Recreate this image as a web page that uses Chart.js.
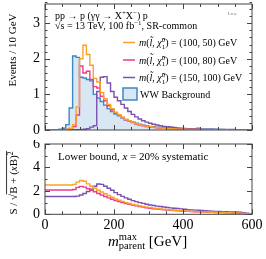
<!DOCTYPE html>
<html>
<head>
<meta charset="utf-8">
<script src="https://cdn.jsdelivr.net/npm/chart.js@4/dist/chart.umd.min.js"></script>
<style>
  body { margin: 0; background: #fff; }
  #wrap { position: relative; width: 266px; height: 259px; }
  canvas { position: absolute; left: 0; }
  #top { top: 0; }
  #bottom { top: 140px; }
</style>
</head>
<body>
<div id="wrap">
  <canvas id="top" width="266" height="140"></canvas>
  <canvas id="bottom" width="266" height="119"></canvas>
</div>
<script>
// 10 GeV bins from 0 to 600 GeV
const binWidth = 10;

// top panel: events / 10 GeV
const wwBackground = [
  0, 0, 0.01, 0.01, 0.02, 0.05, 0.15, 0.62, 2.08, 2.04,
  1.48, 1.46, 1.42, 1.38, 1.0, 0.9, 0.8, 0.7, 0.6, 0.52,
  0.45, 0.4, 0.34, 0.29, 0.25, 0.22, 0.19, 0.16, 0.14, 0.12,
  0.1, 0.09, 0.08, 0.07, 0.06, 0.05, 0.08, 0.05, 0.04, 0.04,
  0.03, 0.03, 0.03, 0.02, 0.05, 0.02, 0.02, 0.02, 0.02, 0.02,
  0.015, 0.015, 0.01, 0.01, 0.01, 0.01, 0.01, 0.01, 0.005, 0.005
];
const sig100_50 = [
  0, 0, 0, 0, 0.005, 0.01, 0.03, 0.05, 0.15, 0.65,
  2.0, 2.38, 2.12, 1.82, 1.45, 1.35, 1.05, 0.88, 0.72, 0.6,
  0.5, 0.43, 0.36, 0.3, 0.26, 0.22, 0.18, 0.15, 0.13, 0.11,
  0.09, 0.08, 0.07, 0.06, 0.05, 0.04, 0.035, 0.03, 0.025, 0.02,
  0.02, 0.018, 0.016, 0.014, 0.012, 0.01, 0.01, 0.008, 0.008, 0.006,
  0.006, 0.005, 0.005, 0.004, 0.004, 0.003, 0.003, 0.002, 0.002, 0.002
];
const sig100_80 = [
  0, 0, 0, 0, 0.005, 0.01, 0.02, 0.04, 0.1, 0.42,
  1.8, 1.6, 1.65, 1.42, 1.22, 1.18, 0.95, 0.82, 0.68, 0.57,
  0.48, 0.41, 0.35, 0.29, 0.25, 0.21, 0.17, 0.14, 0.12, 0.1,
  0.085, 0.075, 0.065, 0.055, 0.045, 0.04, 0.035, 0.03, 0.025, 0.02,
  0.018, 0.016, 0.014, 0.012, 0.01, 0.009, 0.008, 0.007, 0.006, 0.005,
  0.005, 0.004, 0.004, 0.003, 0.003, 0.003, 0.002, 0.002, 0.002, 0.002
];
const sig150_100 = [
  0, 0, 0, 0, 0, 0.002, 0.003, 0.004, 0.005, 0.006,
  0.01, 0.02, 0.04, 0.08, 0.12, 1.08, 1.48, 1.5, 1.32, 1.08,
  0.92, 0.82, 0.72, 0.62, 0.52, 0.44, 0.37, 0.31, 0.26, 0.22,
  0.19, 0.16, 0.14, 0.12, 0.1, 0.09, 0.08, 0.07, 0.06, 0.05,
  0.045, 0.04, 0.035, 0.03, 0.027, 0.025, 0.022, 0.02, 0.02, 0.018,
  0.016, 0.015, 0.014, 0.013, 0.012, 0.011, 0.01, 0.01, 0.009, 0.008
];

// bottom panel: S / sqrt(B + (xB)^2), lower bound on m_parent^max
const signif100_50 = [
  2.5, 2.5, 2.5, 2.5, 2.5, 2.5, 2.5, 2.5, 2.55, 2.75,
  2.88, 2.82, 2.6, 2.4, 2.22, 2.05, 1.9, 1.75, 1.6, 1.45,
  1.3, 1.2, 1.1, 1.0, 0.92, 0.85, 0.78, 0.72, 0.66, 0.61,
  0.57, 0.53, 0.49, 0.46, 0.43, 0.4, 0.37, 0.35, 0.33, 0.31,
  0.29, 0.27, 0.25, 0.24, 0.22, 0.21, 0.2, 0.19, 0.18, 0.17,
  0.16, 0.15, 0.14, 0.13, 0.12, 0.11, 0.1, 0.08, 0.06, 0.03
];
const signif100_80 = [
  2.08, 2.08, 2.08, 2.08, 2.08, 2.08, 2.08, 2.08, 2.12, 2.3,
  2.38, 2.32, 2.18, 2.05, 1.92, 1.78, 1.65, 1.52, 1.4, 1.29,
  1.18, 1.09, 1.0, 0.92, 0.85, 0.78, 0.72, 0.66, 0.61, 0.56,
  0.52, 0.48, 0.45, 0.42, 0.39, 0.36, 0.34, 0.32, 0.3, 0.28,
  0.26, 0.25, 0.23, 0.22, 0.21, 0.2, 0.19, 0.18, 0.17, 0.16,
  0.15, 0.14, 0.13, 0.12, 0.11, 0.1, 0.09, 0.07, 0.05, 0.03
];
const signif150_100 = [
  1.52, 1.52, 1.52, 1.52, 1.52, 1.52, 1.52, 1.52, 1.52, 1.55,
  1.65, 1.78, 1.95, 2.15, 2.4, 2.58, 2.55, 2.4, 2.22, 2.05,
  1.85, 1.68, 1.53, 1.4, 1.28, 1.17, 1.08, 1.0, 0.93, 0.86,
  0.8, 0.75, 0.7, 0.66, 0.62, 0.58, 0.55, 0.52, 0.49, 0.46,
  0.43, 0.4, 0.38, 0.36, 0.34, 0.32, 0.3, 0.28, 0.27, 0.25,
  0.24, 0.23, 0.22, 0.21, 0.2, 0.19, 0.17, 0.14, 0.1, 0.05
];

const massPoints = ["(100, 50) GeV", "(100, 80) GeV", "(150, 100) GeV"];
const xTicks = [0, 200, 400, 600];
const topYTicks = [0, 1, 2, 3];
const bottomYTicks = [0, 2, 4, 6];

const colors = ["#F9A22A", "#EC3B8E", "#7A52AE"];
const wwLine = "#3C88C3";
const wwFill = "#D9E6F3";
const SERIF = '"Liberation Serif", "Times New Roman", serif';

function steps(vals) {
  const pts = vals.map((v, i) => ({ x: i * binWidth, y: v }));
  pts.push({ x: vals.length * binWidth, y: vals[vals.length - 1] });
  return pts;
}

// draws a run of text pieces (italic / superscript / subscript), returns end x
function drawRich(ctx, x, y, segs, size, dry) {
  ctx.textAlign = "left";
  ctx.textBaseline = "alphabetic";
  let cx = x, lastW = 0;
  for (const s of segs) {
    const fs = s.sup || s.sub ? size * 0.7 : size;
    ctx.font = (s.i ? "italic " : "") + fs + "px " + SERIF;
    const dy = s.sup ? -size * 0.4 : s.sub ? size * 0.25 : 0;
    if (s.stack) cx -= lastW;
    if (!dry) ctx.fillText(s.t, cx, y + dy);
    const w = ctx.measureText(s.t).width;
    if (s.stack) { const adv = Math.max(w, lastW); cx += adv; lastW = adv; }
    else { cx += w; lastW = w; }
  }
  return cx;
}

// frame with inward ticks on all four sides
const framePlugin = {
  id: "frame",
  afterDraw(chart, args, opts) {
    const { ctx, chartArea: a, scales: { x, y } } = chart;
    ctx.save();
    ctx.strokeStyle = "#444";
    ctx.lineWidth = 1;
    ctx.strokeRect(a.left, a.top, a.right - a.left, a.bottom - a.top);
    ctx.beginPath();
    for (let v = 0; v <= 600; v += 50) {
      const px = Math.round(x.getPixelForValue(v)) + 0.5;
      const len = v % 200 === 0 ? 5 : 3;
      ctx.moveTo(px, a.bottom); ctx.lineTo(px, a.bottom - len);
      ctx.moveTo(px, a.top); ctx.lineTo(px, a.top + len);
    }
    const n = Math.round(y.max / opts.minor);
    for (let k = 0; k <= n; k++) {
      const v = k * opts.minor;
      const major = Math.abs(v / opts.major - Math.round(v / opts.major)) < 1e-6;
      const len = major ? 5 : 2.5;
      const py = Math.round(y.getPixelForValue(v)) + 0.5;
      ctx.moveTo(a.left, py); ctx.lineTo(a.left + len, py);
      ctx.moveTo(a.right, py); ctx.lineTo(a.right - len, py);
    }
    ctx.stroke();
    ctx.restore();
  }
};

function histLine(label, vals, color, order) {
  return {
    label, data: steps(vals), borderColor: color, borderWidth: 1.4,
    stepped: true, pointRadius: 0, fill: false, order
  };
}

const yAxisFit = (scale) => { scale.width = 45; scale.paddingTop = 0; scale.paddingBottom = 0; };
const tickFont = { family: SERIF, size: 14 };

// ---------- top panel ----------
const topAnnot = {
  id: "topAnnot",
  afterDraw(chart) {
    const ctx = chart.ctx;
    ctx.save();
    ctx.fillStyle = "#000";
    // y title
    ctx.save();
    ctx.translate(13, 50);
    ctx.rotate(-Math.PI / 2);
    ctx.font = "11px " + SERIF;
    ctx.textAlign = "center";
    ctx.textBaseline = "middle";
    ctx.fillText("Events / 10 GeV", 0, 0);
    ctx.restore();
    // process text
    drawRich(ctx, 55, 18.5, [
      { t: "pp \u2192 p (\u03b3\u03b3 \u2192 X" }, { t: "+", sup: true },
      { t: "X" }, { t: "\u2212", sup: true }, { t: ") p" }
    ], 10);
    drawRich(ctx, 55, 28.5, [
      { t: "\u221as = 13 TeV, 100 fb" }, { t: "\u22121", sup: true }, { t: ", SR-common" }
    ], 10);
    ctx.fillStyle = "#777";
    ctx.font = "4.5px " + SERIF;
    ctx.fillText("Lu a.", 228, 15);
    // legend
    const rows = [42.5, 60, 77.5];
    massPoints.forEach((m, i) => {
      ctx.strokeStyle = colors[i];
      ctx.lineWidth = 1.5;
      ctx.beginPath();
      ctx.moveTo(123, rows[i]); ctx.lineTo(135, rows[i]);
      ctx.stroke();
      ctx.fillStyle = "#000";
      drawRich(ctx, 139, rows[i] + 3.5, [
        { t: "m", i: true }, { t: "(" }, { t: "l\u0303", i: true }, { t: ", " },
        { t: "\u03c7\u0303", i: true }, { t: "0", sup: true }, { t: "1", sub: true, stack: true },
        { t: ") = " + m }
      ], 10);
    });
    ctx.fillStyle = wwFill;
    ctx.fillRect(123, 88, 14, 12);
    ctx.strokeStyle = wwLine;
    ctx.lineWidth = 1.5;
    ctx.strokeRect(123, 88, 14, 12);
    ctx.fillStyle = "#000";
    drawRich(ctx, 140, 97.5, [{ t: "WW Background" }], 10);
    ctx.restore();
  }
};

new Chart(document.getElementById("top"), {
  type: "line",
  data: {
    datasets: [
      histLine("(100, 50)", sig100_50, colors[0], 1),
      histLine("(100, 80)", sig100_80, colors[1], 2),
      histLine("(150, 100)", sig150_100, colors[2], 3),
      {
        label: "WW Background", data: steps(wwBackground), borderColor: wwLine,
        backgroundColor: wwFill, borderWidth: 1.4, stepped: true, pointRadius: 0,
        fill: "origin", order: 4
      }
    ]
  },
  options: {
    responsive: false, animation: false, devicePixelRatio: 1,
    layout: { padding: { top: 4, right: 14, bottom: 10, left: 0 } },
    plugins: { legend: { display: false }, tooltip: { enabled: false }, frame: { major: 1, minor: 0.2 } },
    scales: {
      x: { type: "linear", min: 0, max: 600, display: false },
      y: {
        min: 0, max: 3.54,
        grid: { display: false, drawTicks: false }, border: { display: false },
        ticks: { font: tickFont, color: "#000", padding: 5 },
        afterBuildTicks: (s) => { s.ticks = topYTicks.map(v => ({ value: v })); },
        afterFit: yAxisFit
      }
    }
  },
  plugins: [framePlugin, topAnnot]
});

// ---------- bottom panel ----------
const bottomAnnot = {
  id: "bottomAnnot",
  afterDraw(chart) {
    const ctx = chart.ctx;
    ctx.save();
    ctx.fillStyle = "#000";
    drawRich(ctx, 58, 20, [
      { t: "Lower bound, " }, { t: "x", i: true }, { t: " = 20% systematic" }
    ], 11);
    // x title
    drawRich(ctx, 108, 105.5, [
      { t: "m", i: true }, { t: "max", sup: true }, { t: "parent", sub: true, stack: true },
      { t: " [GeV]" }
    ], 15);
    // y title  S / sqrt(B + (xB)^2)
    const segsA = [{ t: "S / \u221a" }];
    const segsB = [{ t: "B + (" }, { t: "x", i: true }, { t: "B)" }, { t: "2", sup: true }];
    const size = 11;
    const wA = drawRich(ctx, 0, 0, segsA, size, true);
    const wB = drawRich(ctx, 0, 0, segsB, size, true);
    ctx.save();
    ctx.translate(17, 43);
    ctx.rotate(-Math.PI / 2);
    const x0 = -(wA + wB) / 2;
    drawRich(ctx, x0, 0, segsA, size);
    const xe = drawRich(ctx, x0 + wA, 0, segsB, size);
    ctx.strokeStyle = "#000";
    ctx.lineWidth = 0.8;
    ctx.beginPath();
    ctx.moveTo(x0 + wA - 0.5, -size * 0.95);
    ctx.lineTo(xe + 0.5, -size * 0.95);
    ctx.stroke();
    ctx.restore();
    ctx.restore();
  }
};

new Chart(document.getElementById("bottom"), {
  type: "line",
  data: {
    datasets: [
      histLine("(100, 50)", signif100_50, colors[0], 1),
      histLine("(100, 80)", signif100_80, colors[1], 2),
      histLine("(150, 100)", signif150_100, colors[2], 3)
    ]
  },
  options: {
    responsive: false, animation: false, devicePixelRatio: 1,
    layout: { padding: { top: 4, right: 14, bottom: 0, left: 0 } },
    plugins: { legend: { display: false }, tooltip: { enabled: false }, frame: { major: 2, minor: 1 } },
    scales: {
      x: {
        type: "linear", min: 0, max: 600,
        grid: { display: false, drawTicks: false }, border: { display: false },
        ticks: { font: tickFont, color: "#000", padding: 3, maxRotation: 0 },
        afterBuildTicks: (s) => { s.ticks = xTicks.map(v => ({ value: v })); },
        afterFit: (s) => { s.height = 44.7; s.paddingLeft = 0; s.paddingRight = 0; }
      },
      y: {
        min: 0, max: 6,
        grid: { display: false, drawTicks: false }, border: { display: false },
        ticks: { font: tickFont, color: "#000", padding: 5 },
        afterBuildTicks: (s) => { s.ticks = bottomYTicks.map(v => ({ value: v })); },
        afterFit: yAxisFit
      }
    }
  },
  plugins: [framePlugin, bottomAnnot]
});
</script>
</body>
</html>
